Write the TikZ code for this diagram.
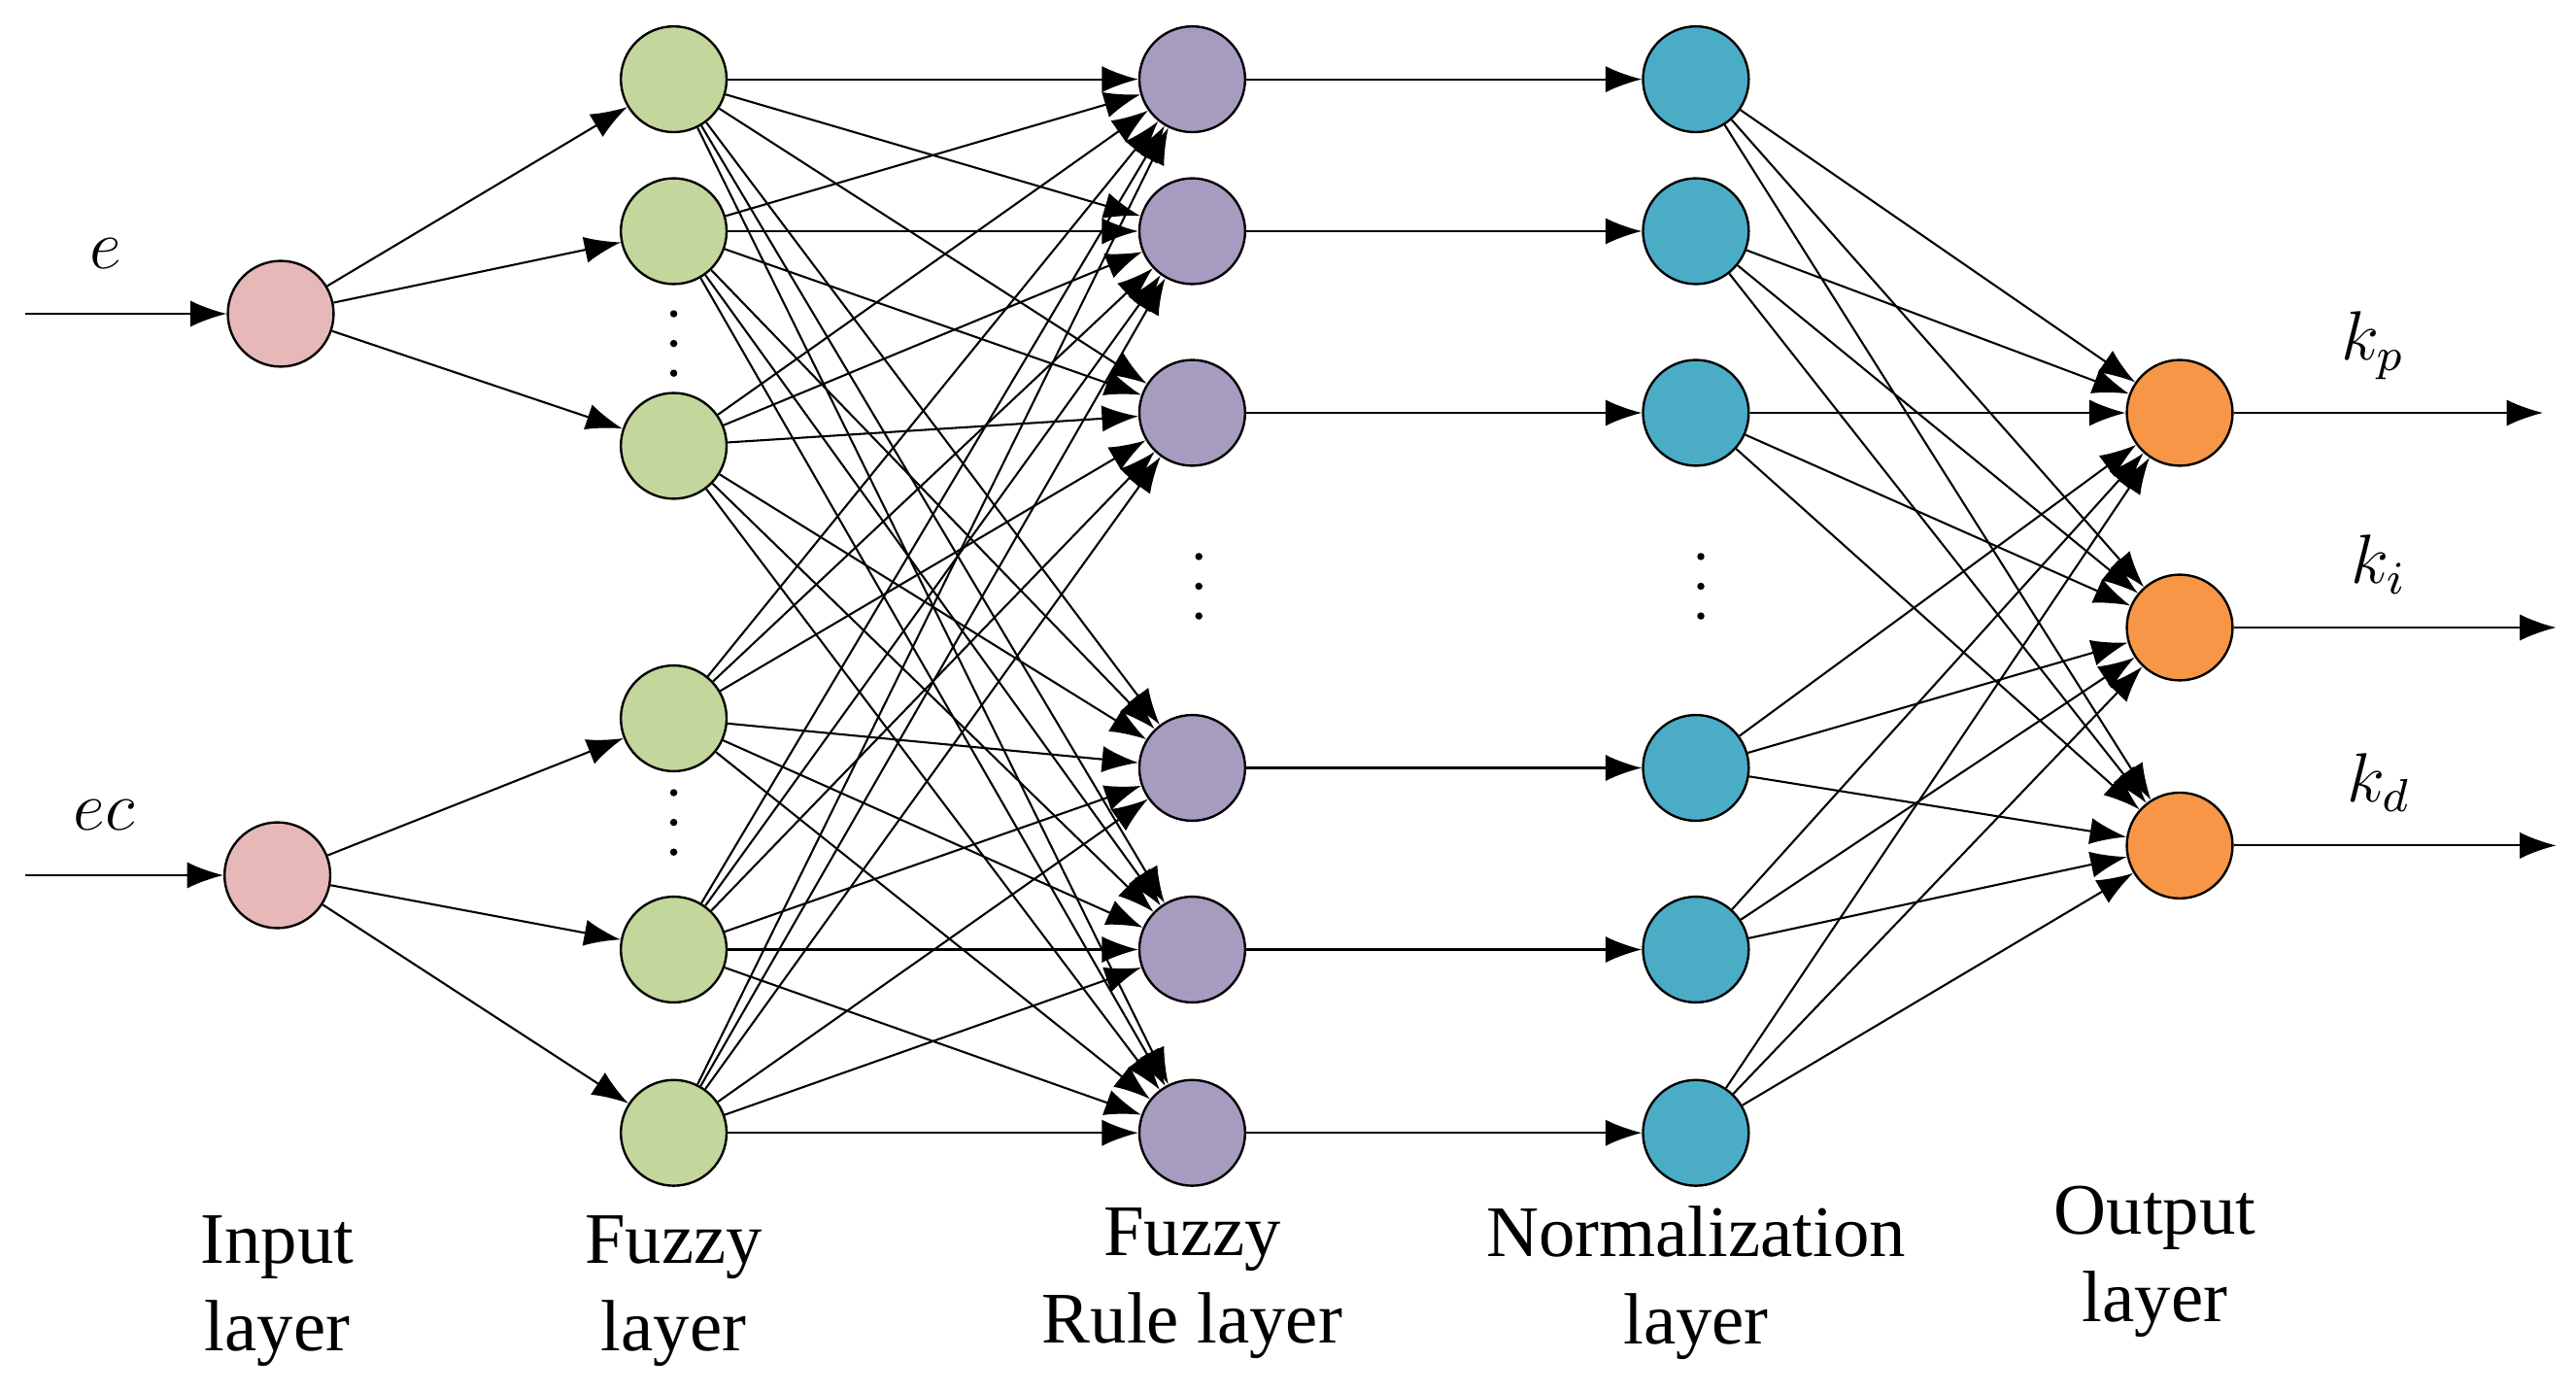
\documentclass[tikz,border=0pt]{standalone}
\usepackage{fontspec}
\setmainfont{Liberation Serif}
\usetikzlibrary{arrows.meta}
\usetikzlibrary{positioning}

\tikzset{
  neuron/.style={circle, draw=black, minimum size=0.64cm, inner sep=0pt},
  conn/.style={-{Latex[length=2.2mm, width=1.6mm]}, line width=0.35pt},
  layerlabel/.style={align=center, font=\fontsize{12.5}{15}\selectfont}
}

\begin{document}
\begin{tikzpicture}[x=0.01cm, y=-0.01cm]
    \useasboundingbox (0,0) rectangle (1560,843);

    % Input layer
    \node[neuron, fill={rgb,255:red,230;green,184;blue,183}] (in1) at (170,190) {};
    \node[neuron, fill={rgb,255:red,230;green,184;blue,183}] (in2) at (168,530) {};
    \coordinate (e0) at (15,190);
    \coordinate (ec0) at (15,530);
    \draw[conn] (e0) -- (in1) node[pos=0.4, above=0.15cm] {\large $e$};
    \draw[conn] (ec0) -- (in2) node[pos=0.4, above=0.15cm] {\large $ec$};

    % Fuzzy layer
    \foreach \i/\y in {1/48, 2/140, 3/270, 4/435, 5/575, 6/686}
        \node[neuron, fill={rgb,255:red,195;green,214;blue,155}] (fz\i) at (408,\y) {};
    \foreach \i in {1,2,3} \draw[conn] (in1) -- (fz\i);
    \foreach \i in {4,5,6} \draw[conn] (in2) -- (fz\i);

    % Fuzzy rule layer
    \foreach \i/\y in {1/48, 2/140, 3/250, 4/465, 5/575, 6/686}
        \node[neuron, fill={rgb,255:red,168;green,155;blue,192}] (ru\i) at (722,\y) {};
    \foreach \i in {1,...,6}
        \foreach \j in {1,...,6}
            \draw[conn] (fz\i) -- (ru\j);

    % Normalization layer
    \foreach \i/\y in {1/48, 2/140, 3/250, 4/465, 5/575, 6/686}
        \node[neuron, fill={rgb,255:red,75;green,172;blue,198}] (no\i) at (1027,\y) {};
    \foreach \i in {1,...,6} \draw[conn] (ru\i) -- (no\i);

    % Output layer
    \foreach \i/\y in {1/250, 2/380, 3/512}
        \node[neuron, fill={rgb,255:red,247;green,150;blue,70}] (out\i) at (1320,\y) {};
    \foreach \i in {1,...,6}
        \foreach \j in {1,2,3}
            \draw[conn] (no\i) -- (out\j);
    \coordinate (kp) at (1540,250);
    \coordinate (ki) at (1548,380);
    \coordinate (kd) at (1548,512);
    \draw[conn] (out1) -- (kp) node[pos=0.45, above=0.08cm] {\large $k_p$};
    \draw[conn] (out2) -- (ki) node[pos=0.45, above=0.08cm] {\large $k_i$};
    \draw[conn] (out3) -- (kd) node[pos=0.45, above=0.08cm] {\large $k_d$};

    % Dots
    \foreach \x/\y in {408/190, 408/480, 726/337, 1030/337}
        \foreach \k in {0,1,2}
            \fill (\x,\y+\k*18) circle (2.2);

    % Labels
    \node[layerlabel] (lin) at (168,782) {Input\\layer};
    \node[layerlabel] (lfz) at (408,782) {Fuzzy\\layer};
    \node[layerlabel] (lru) at (722,777) {Fuzzy\\Rule layer};
    \node[layerlabel] (lno) at (1027,777) {Normalization\\layer};
    \node[layerlabel] (lout) at (1305,764) {Output\\layer};
\end{tikzpicture}
\end{document}
